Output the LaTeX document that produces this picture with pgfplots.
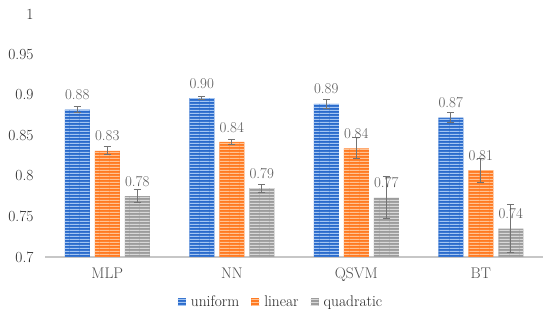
\documentclass[border=0pt]{standalone}
\usepackage{pgfplots}
\usepackage{pgfplotstable}
\pgfplotsset{compat=1.18}
\usetikzlibrary{patterns}
\pgfdeclarepatternformonly{hstripes}{\pgfpointorigin}{\pgfpoint{10bp}{3bp}}{\pgfpoint{10bp}{3bp}}{\pgfpathrectangle{\pgfpoint{-0.5bp}{0bp}}{\pgfpoint{11bp}{1.4bp}}\pgfusepath{fill}}
\definecolor{cBlue}{HTML}{2A6BCC}
\definecolor{cBlueL}{HTML}{A3C5F2}
\definecolor{cOrange}{HTML}{FF7A22}
\definecolor{cOrangeL}{HTML}{FFC394}
\definecolor{cGray}{HTML}{9C9C9C}
\definecolor{cGrayL}{HTML}{D8D8D8}
\pgfplotstableread{
x y e lab
0 0.882 0.004 0.88
1 0.896 0.002 0.90
2 0.889 0.006 0.89
3 0.872 0.006 0.87
}\uniform
\pgfplotstableread{
x y e lab
0 0.831 0.005 0.83
1 0.842 0.003 0.84
2 0.834 0.013 0.84
3 0.807 0.015 0.81
}\linear
\pgfplotstableread{
x y e lab
0 0.775 0.008 0.78
1 0.785 0.005 0.79
2 0.773 0.026 0.77
3 0.735 0.030 0.74
}\quadratic
\begin{document}
\begin{tikzpicture}
\begin{axis}[
 scale only axis, width=498bp, height=243bp,
 ybar=5bp, bar width=25bp,
 ymin=0.7, ymax=1, ytick={0.7,0.75,0.8,0.85,0.9,0.95,1},
 xmin=-0.5, xmax=3.5, xtick={0,1,2,3}, xticklabels={MLP,NN,QSVM,BT},
 axis x line*=bottom, axis y line*=left,
 y axis line style={draw=none}, x axis line style={draw=black!22, line width=1.2bp},
 major tick length=0,
 tick label style={font=\fontsize{15.5}{17}\selectfont, text=black!85},
 /pgf/number format/assume math mode=true,
 yticklabel style={/pgf/number format/fixed, /pgf/number format/precision=2, xshift=-8bp},
 xticklabel style={yshift=-7bp, text=black!70},
 nodes near coords, point meta=explicit symbolic,
 nodes near coords style={font=\fontsize{15}{17}\selectfont, text=black!65, anchor=south, inner sep=0bp, yshift=9.5bp},
 error bars/y dir=both, error bars/y explicit,
 error bars/error bar style={black!55, line width=1bp},
 error bars/error mark options={rotate=90, mark size=3.5bp, black!55, line width=1bp},
 legend style={at={(0.474,-0.185)}, anchor=center, draw=none, legend columns=-1, font=\fontsize{15.5}{17}\selectfont, text=black!85, /tikz/every even column/.append style={column sep=10bp}},
 legend image code/.code={\draw[#1, draw=none] (0bp,-4bp) rectangle (8bp,4bp); \path (0bp,0bp) (11bp,0bp);},
]
\addplot[fill=cBlue, draw=none, postaction={pattern=hstripes, pattern color=cBlueL}] table[x=x, y=y, y error=e, meta=lab]{\uniform};
\addplot[fill=cOrange, draw=none, postaction={pattern=hstripes, pattern color=cOrangeL}] table[x=x, y=y, y error=e, meta=lab]{\linear};
\addplot[fill=cGray, draw=none, postaction={pattern=hstripes, pattern color=cGrayL}] table[x=x, y=y, y error=e, meta=lab]{\quadratic};
\legend{uniform, linear, quadratic}
\end{axis}
\path ([shift={(-45bp,-70bp)}]current axis.south west) rectangle ++(550bp,327bp);
\end{tikzpicture}
\end{document}
